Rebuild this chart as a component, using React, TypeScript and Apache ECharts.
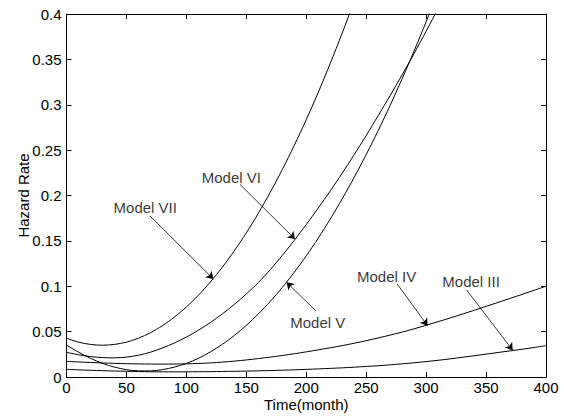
import React, { useEffect, useRef } from "react";
import * as echarts from "echarts";

const months = [
  0, 10, 20, 30, 40, 50, 60, 70, 80, 90, 100, 110, 120, 130, 140, 150, 160, 170, 180, 190, 200,
  210, 220, 230, 240, 250, 260, 270, 280, 290, 300, 310, 320, 330, 340, 350, 360, 370, 380, 390, 400,
];

const modelIII = [
  0.0084, 0.0079, 0.0074, 0.007, 0.0066, 0.0063, 0.006, 0.0058, 0.0057, 0.0057, 0.0057, 0.0058, 0.0059, 0.0061, 0.0063, 0.0065, 0.0068, 0.0071, 0.0075, 0.0079, 0.0084,
  0.0089, 0.0095, 0.0101, 0.0108, 0.0116, 0.0124, 0.0134, 0.0145, 0.0157, 0.017, 0.0184, 0.02, 0.0217, 0.0234, 0.0252, 0.027, 0.0288, 0.0306, 0.0325, 0.0345,
];
const modelIV = [
  0.0172, 0.0166, 0.016, 0.0155, 0.015, 0.0147, 0.0144, 0.0143, 0.0142, 0.0143, 0.0145, 0.0149, 0.0155, 0.0164, 0.0175, 0.0188, 0.0203, 0.0219, 0.0237, 0.0256, 0.0277,
  0.0299, 0.0322, 0.0346, 0.0372, 0.04, 0.043, 0.0462, 0.0495, 0.0531, 0.057, 0.061, 0.065, 0.0692, 0.0735, 0.0778, 0.0822, 0.0866, 0.091, 0.0955, 0.1,
];
const modelV = [
  0.0352, 0.0274, 0.0206, 0.015, 0.0109, 0.0081, 0.0067, 0.0067, 0.0081, 0.0109, 0.015, 0.0206, 0.0276, 0.036, 0.0457, 0.0569, 0.0694, 0.0833, 0.0987, 0.1154, 0.1335,
  0.153, 0.174, 0.1963, 0.22, 0.2451, 0.2715, 0.2994, 0.3287, 0.3594, 0.3914, 0.4249, null, null, null, null, null, null, null, null, null,
];
const modelVI = [
  0.0272, 0.0245, 0.0225, 0.0214, 0.0211, 0.0219, 0.024, 0.0273, 0.032, 0.0375, 0.044, 0.0515, 0.06, 0.0695, 0.08, 0.0915, 0.104, 0.1183, 0.134, 0.1505, 0.168,
  0.1862, 0.205, 0.2246, 0.245, 0.2661, 0.288, 0.3102, 0.333, 0.3566, 0.381, 0.4062, 0.432, null, null, null, null, null, null, null, null,
];
const modelVII = [
  0.0427, 0.0384, 0.0359, 0.035, 0.0359, 0.0384, 0.0427, 0.0488, 0.0565, 0.066, 0.0771, 0.09, 0.1047, 0.121, 0.1391, 0.1588, 0.1803, 0.2036, 0.2285, 0.2552, 0.2835,
  0.3136, 0.3455, 0.379, 0.4143, 0.4512, null, null, null, null, null, null, null, null, null, null, null, null, null, null, null,
];

const xTicks = [0, 50, 100, 150, 200, 250, 300, 350, 400];
const yTicks = [0, 0.05, 0.1, 0.15, 0.2, 0.25, 0.3, 0.35, 0.4];

const labelNames = ["Model VII", "Model VI", "Model V", "Model IV", "Model III"];
const labelPos = [
  [65.7, 0.1867],
  [137.5, 0.2197],
  [209.6, 0.06],
  [267, 0.1107],
  [337.5, 0.1052],
];
const arrowTail = [
  [69.6, 0.1775],
  [144.7, 0.2123],
  [208, 0.073],
  [275.9, 0.1024],
  [333.8, 0.0958],
];
const arrowHead = [
  [122.5, 0.108],
  [190.6, 0.152],
  [183.6, 0.1043],
  [301.2, 0.0566],
  [372.2, 0.0295],
];

const FONT = "Liberation Sans, Arial, Helvetica, sans-serif";

function toPairs(vals: (number | null)[]) {
  return months
    .map((m, i) => [m, vals[i]])
    .filter((d) => d[1] !== null && d[1] !== undefined);
}

export default function App() {
  const ref = useRef<HTMLDivElement>(null);
  useEffect(() => {
    if (!ref.current) return;
    const chart = echarts.init(ref.current, null, { renderer: "svg" });
    const axisCommon = {
      type: "value" as const,
      axisLine: { show: true, onZero: false, lineStyle: { color: "#000", width: 1 } },
      axisTick: { show: true, inside: true, length: 5, lineStyle: { color: "#000", width: 1 } },
      splitLine: { show: false },
    };
    const lineSeries = (name: string, vals: (number | null)[]) => ({
      name,
      type: "line",
      data: toPairs(vals),
      smooth: 0.3,
      showSymbol: false,
      symbol: "none",
      clip: true,
      lineStyle: { color: "#000", width: 1 },
      silent: true,
    });
    chart.setOption({
      animation: false,
      backgroundColor: "#fff",
      grid: { left: 66.5, right: 18, top: 14, bottom: 39, containLabel: false },
      xAxis: [
        {
          ...axisCommon,
          min: xTicks[0],
          max: xTicks[xTicks.length - 1],
          interval: 50,
          position: "bottom",
          name: "Time(month)",
          nameLocation: "middle",
          nameGap: 20,
          nameMoveOverlap: false,
          nameTextStyle: { color: "#000", fontSize: 15, lineHeight: 15, fontFamily: FONT },
          axisLabel: { color: "#000", fontSize: 15, lineHeight: 15, fontFamily: FONT, margin: 3 },
        },
        {
          ...axisCommon,
          min: xTicks[0],
          max: xTicks[xTicks.length - 1],
          interval: 50,
          position: "top",
          axisLabel: { show: false },
        },
      ],
      yAxis: [
        {
          ...axisCommon,
          min: yTicks[0],
          max: yTicks[yTicks.length - 1],
          interval: 0.05,
          position: "left",
          name: "Hazard Rate",
          nameLocation: "middle",
          nameGap: 36,
          nameMoveOverlap: false,
          nameTextStyle: { color: "#000", fontSize: 15, fontFamily: FONT },
          axisLabel: { color: "#000", fontSize: 15, fontFamily: FONT, margin: 5 },
        },
        {
          ...axisCommon,
          min: yTicks[0],
          max: yTicks[yTicks.length - 1],
          interval: 0.05,
          position: "right",
          axisLabel: { show: false },
        },
      ],
      series: [
        lineSeries("Model III", modelIII),
        lineSeries("Model IV", modelIV),
        lineSeries("Model V", modelV),
        lineSeries("Model VI", modelVI),
        lineSeries("Model VII", modelVII),
        {
          type: "scatter",
          silent: true,
          symbolSize: 1,
          itemStyle: { color: "rgba(0,0,0,0)" },
          data: labelNames.map((n, i) => ({ name: n, value: labelPos[i] })),
          label: {
            show: true,
            position: "inside",
            formatter: "{b}",
            color: "#000",
            fontSize: 15,
            fontFamily: FONT,
          },
          markLine: {
            silent: true,
            symbol: ["none", "arrow"],
            symbolSize: 7,
            label: { show: false },
            lineStyle: { color: "#000", width: 0.8, type: "solid" },
            emphasis: { disabled: true },
            data: arrowTail.map((t, i) => [{ coord: t }, { coord: arrowHead[i] }]),
          },
        },
      ],
    });
    return () => chart.dispose();
  }, []);
  return (
    <div
      ref={ref}
      style={{ position: "absolute", left: 0, top: 0, width: 564, height: 417 }}
    />
  );
}
